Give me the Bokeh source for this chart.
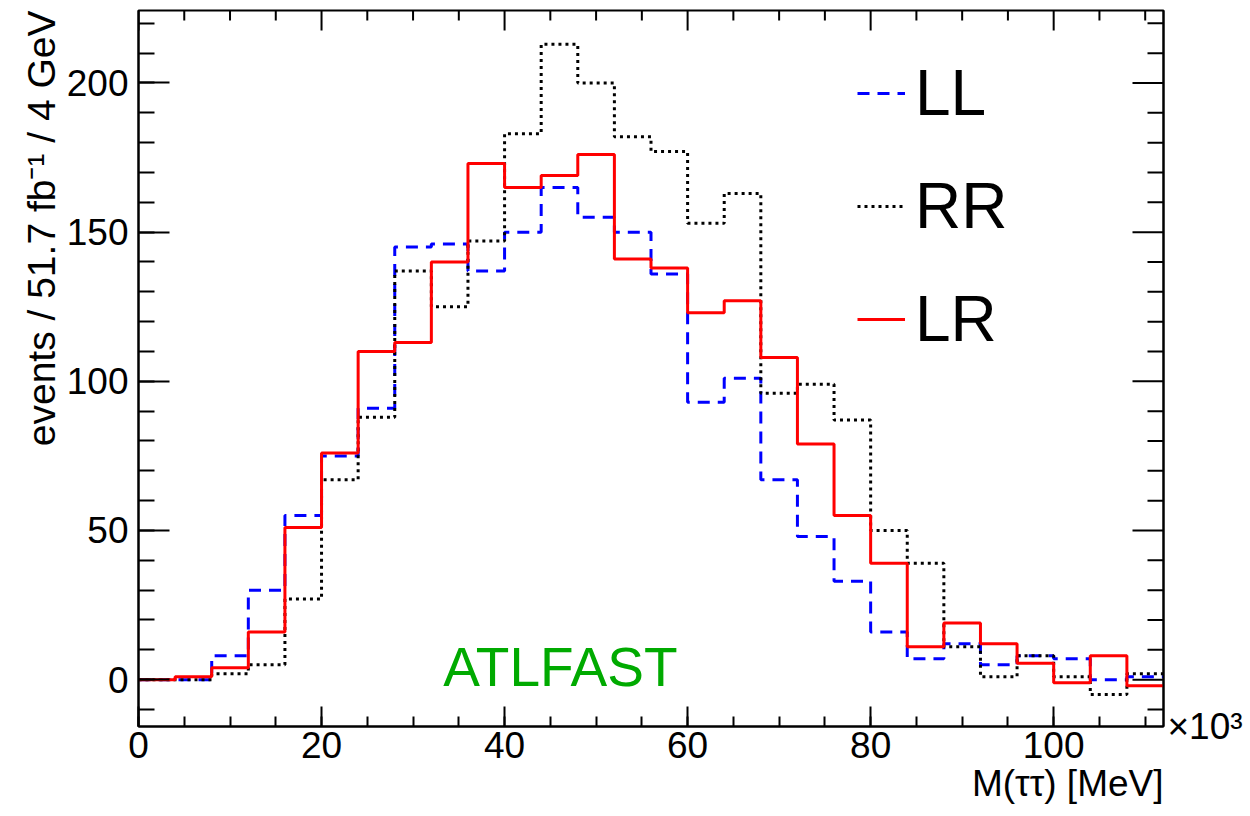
from bokeh.plotting import figure
from bokeh.models import Range1d, FixedTicker, LinearAxis, Label, Legend, LegendItem, Title
from bokeh.embed import file_html
from bokeh.resources import INLINE

# ---- data (bin width 4 x 10^3 MeV) ----
bin_edges = list(range(0, 113, 4))
ll_values = [0, 0, 8, 30, 55, 75, 91, 145, 146, 137, 150, 165, 155, 150, 136, 93,
             101, 67, 48, 33, 16, 7, 12, 5, 8, 7, 0, 1]
rr_values = [0, 0, 2, 5, 27, 67, 88, 137, 125, 147, 183, 213, 200, 182, 177, 153,
             163, 96, 99, 87, 50, 39, 11, 1, 8, 1, -5, 2]
lr_values = [0, 1, 4, 16, 51, 76, 110, 113, 140, 173, 165, 169, 176, 141, 138, 123,
             127, 108, 79, 55, 39, 11, 19, 12, 5.5, -1, 8, -2]

x_major = [0, 20, 40, 60, 80, 100]
x_minor = list(range(0, 113, 5))
y_major = [0, 50, 100, 150, 200]
y_minor = list(range(-10, 225, 10))

FONT = "Liberation Sans"
X0, X1 = 0, 112
Y0, Y1 = -15.7, 224.3
FRAME_W, FRAME_H = 1025, 716
DX = (X1 - X0) / FRAME_W   # data units per pixel
DY = (Y1 - Y0) / FRAME_H

p = figure(width=1250, height=816, output_backend="svg", toolbar_location=None,
           x_range=Range1d(X0, X1), y_range=Range1d(Y0, Y1),
           min_border_left=138, min_border_right=87, min_border_top=10,
           min_border_bottom=90, background_fill_color="white",
           border_fill_color="white")
p.xgrid.visible = False
p.ygrid.visible = False
p.outline_line_color = "black"
p.outline_line_width = 2


def style_axis(ax, major, minor, tin, mtin):
    ax.ticker = FixedTicker(ticks=major, minor_ticks=minor)
    ax.major_tick_in = tin
    ax.major_tick_out = 0
    ax.minor_tick_in = mtin
    ax.minor_tick_out = 0
    ax.major_tick_line_width = 2
    ax.minor_tick_line_width = 2
    ax.major_tick_line_color = "black"
    ax.minor_tick_line_color = "black"
    ax.axis_line_width = 2
    ax.axis_line_color = "black"
    ax.major_label_text_font = FONT
    ax.major_label_text_font_size = "37px"
    ax.major_label_text_color = "black"


def set_align(ax, a):
    if "axis_label_align" in ax.properties():
        ax.axis_label_align = a


xa = p.xaxis[0]
style_axis(xa, x_major, x_minor, 20, 10)
xa.major_label_standoff = 5

ya = p.yaxis[0]
style_axis(ya, y_major, y_minor, 31, 16)
ya.major_label_standoff = 10

# axis titles as side titles aligned to the frame ends
x_title = Title(text="M(ττ) [MeV]", align="right", text_font=FONT,
                text_font_size="37px", text_font_style="normal",
                text_color="black", standoff=0, offset=0)
p.add_layout(x_title, "below")
y_title = Title(text="events / 51.7 fb⁻¹ / 4 GeV", align="right", text_font=FONT,
                text_font_size="39px", text_font_style="normal",
                text_color="black", standoff=2, offset=0)
p.add_layout(y_title, "left")

# exponent marker on the right side
ra = LinearAxis(ticker=FixedTicker(ticks=[], minor_ticks=[]))
ra.major_tick_in = 0
ra.major_tick_out = 0
ra.minor_tick_in = 0
ra.minor_tick_out = 0
ra.major_label_standoff = 0
ra.axis_line_width = 2
ra.axis_line_color = "black"
ra.axis_label = "×10³"
ra.axis_label_orientation = "horizontal"
ra.axis_label_standoff = 4
ra.axis_label_text_font = FONT
ra.axis_label_text_font_style = "normal"
ra.axis_label_text_font_size = "37px"
ra.axis_label_text_color = "black"
set_align(ra, "start")
p.add_layout(ra, "right")

# ticks on top and right frame edges (mirror of the main axes)
top_major_len, top_minor_len = 20 * DY, 10 * DY
right_major_len, right_minor_len = 31 * DX, 16 * DX
tx_min = [t for t in x_minor if t not in x_major]
ty_min = [t for t in y_minor if t not in y_major]
p.segment(x0=x_major, y0=[Y1] * len(x_major), x1=x_major,
          y1=[Y1 - top_major_len] * len(x_major), line_color="black", line_width=2)
p.segment(x0=tx_min, y0=[Y1] * len(tx_min), x1=tx_min,
          y1=[Y1 - top_minor_len] * len(tx_min), line_color="black", line_width=2)
p.segment(x0=[X1] * len(y_major), y0=y_major, x1=[X1 - right_major_len] * len(y_major),
          y1=y_major, line_color="black", line_width=2)
p.segment(x0=[X1] * len(ty_min), y0=ty_min, x1=[X1 - right_minor_len] * len(ty_min),
          y1=ty_min, line_color="black", line_width=2)

r_ll = p.step(x=bin_edges, y=ll_values + [ll_values[-1]], mode="after",
              line_color="#0000ff", line_width=3, line_dash="12 8")
r_rr = p.step(x=bin_edges, y=rr_values + [rr_values[-1]], mode="after",
              line_color="black", line_width=3, line_dash="3 4")
r_lr = p.step(x=bin_edges, y=lr_values + [lr_values[-1]], mode="after",
              line_color="#ff0000", line_width=3)

legend = Legend(items=[LegendItem(label="LL", renderers=[r_ll]),
                       LegendItem(label="RR", renderers=[r_rr]),
                       LegendItem(label="LR", renderers=[r_lr])],
                location=(719, 370), padding=0, margin=0, spacing=39,
                glyph_width=48, glyph_height=74, label_height=74,
                label_standoff=10, label_text_font=FONT,
                label_text_font_size="64px", label_text_color="black",
                border_line_alpha=0, background_fill_alpha=0)
p.add_layout(legend)

p.add_layout(Label(x=33.3, y=4.25, text="ATLFAST", text_font=FONT,
                   text_font_size="55px", text_color="#00aa00",
                   text_baseline="alphabetic", text_align="left"))

open("out.html", "w").write(file_html(p, INLINE))
